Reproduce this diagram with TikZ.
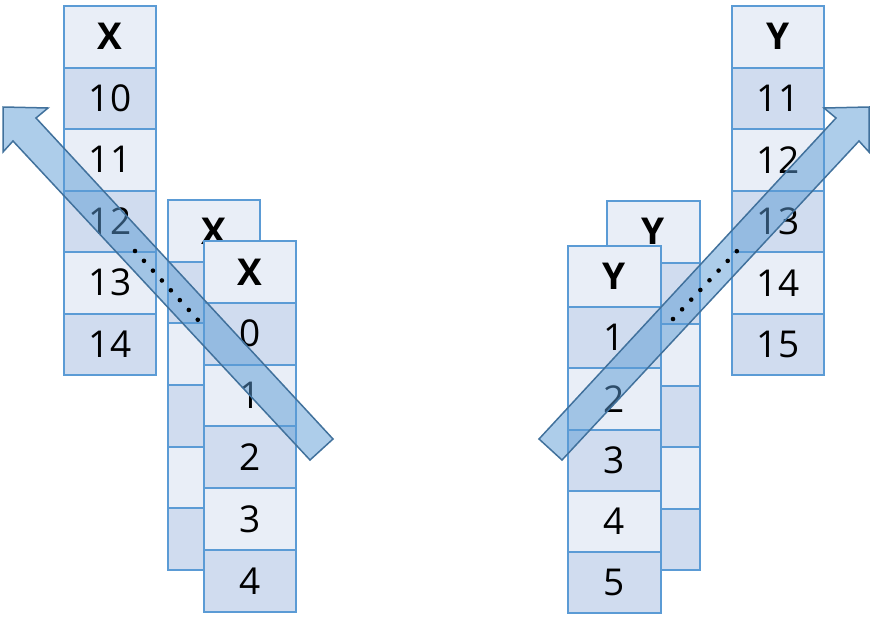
\documentclass[tikz,border=0pt]{standalone}
\usepackage{fontspec}
\setmainfont{Open Sans}
\definecolor{bord}{HTML}{5B9BD5}
\definecolor{lightc}{HTML}{E9EEF7}
\definecolor{darkc}{HTML}{D0DCEF}
\definecolor{arrfill}{HTML}{5B9BD5}
\definecolor{arrline}{HTML}{41719C}
\tikzset{
  cell/.style={draw=bord, line width=2pt, inner sep=0pt},
  blockarrow/.style={fill=arrfill, fill opacity=0.5, draw=arrline, draw opacity=1, line width=1.5pt, line join=miter},
  dotline/.style={line width=4.6pt, line cap=round, dash pattern=on 0pt off 13.3pt},
}
% #1 name, #2 x-left, #3 width, #4 top, #5 row height, #6 labels
\newcommand\mycolumn[6]{%
  \foreach \lab [count=\i from 0] in {#6} {
    \pgfmathsetmacro\yc{#4+(\i+0.5)*#5}
    \ifnum\i=0 \def\fc{lightc}\def\fw{\bfseries}\else
      \ifodd\i \def\fc{darkc}\else\def\fc{lightc}\fi\def\fw{}\fi
    \node[cell, fill=\fc, minimum width=#3pt, minimum height=#5pt,
          font=\fontsize{37}{42}\selectfont\fw] (#1-\i) at (#2+#3/2, \yc) {\lab};
  }}
\begin{document}
\begin{tikzpicture}[x=1pt, y=-1pt]
\useasboundingbox (0,0) rectangle (872,627);
% left side
\mycolumn{xa}{64}{92}{6}{61.5}{X,10,11,12,13,14}
\mycolumn{xb}{168}{92}{200}{61.67}{X,{},{},{},{},{}}
\mycolumn{xc}{204}{92}{241}{61.83}{X,0,1,2,3,4}
\draw[blockarrow] (333,439) -- (36,118) -- (48,108) -- (3,107) -- (3,152) -- (13,141) -- (310,460) -- cycle;
\coordinate (ld1) at (135,251);
\coordinate (ld2) at (198,320);
\draw[dotline] (ld1) -- (ld2);
% right side
\mycolumn{yb}{607}{93}{201}{61.5}{Y,{},{},{},{},{}}
\mycolumn{yc}{568}{93}{246}{61.17}{Y,1,2,3,4,5}
\mycolumn{ya}{732}{92}{6}{61.5}{Y,11,12,13,14,15}
\draw[blockarrow] (539,439) -- (836,118) -- (824,108) -- (869,107) -- (869,152) -- (859,141) -- (562,460) -- cycle;
\coordinate (rd1) at (673,319);
\coordinate (rd2) at (737,251);
\draw[dotline] (rd1) -- (rd2);
\end{tikzpicture}
\end{document}
